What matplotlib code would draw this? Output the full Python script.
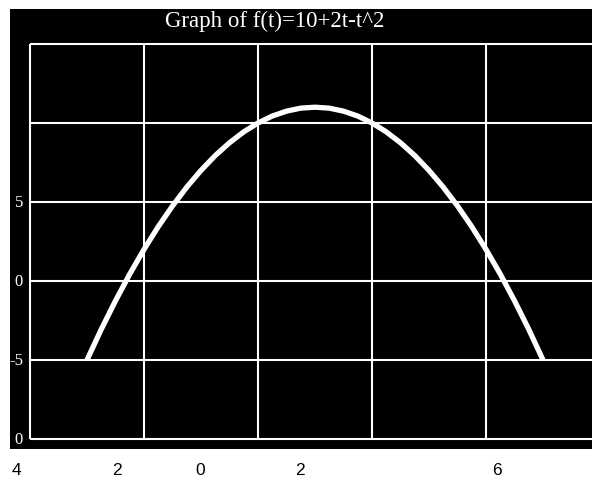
import numpy as np
import matplotlib.pyplot as plt

# ---------------------------
# Data
# ---------------------------
t_vals = [-3.0, -2.75, -2.5, -2.25, -2.0, -1.75, -1.5, -1.25, -1.0,
          -0.75, -0.5, -0.25, 0.0, 0.25, 0.5, 0.75, 1.0,
          1.25, 1.5, 1.75, 2.0, 2.25, 2.5, 2.75, 3.0,
          3.25, 3.5, 3.75, 4.0, 4.25, 4.5, 4.75, 5.0]
f_vals = [-5.0, -3.06, -1.25, 0.44, 2.0, 3.44, 4.75, 5.94, 7.0,
          7.94, 8.75, 9.44, 10.0, 10.44, 10.75, 10.94, 11.0,
          10.94, 10.75, 10.44, 10.0, 9.44, 8.75, 7.94, 7.0,
          5.94, 4.75, 3.44, 2.0, 0.44, -1.25, -3.06, -5.0]

grid_x = [-4, -2, 0, 2, 4]
grid_y = [-10, -5, 0, 5, 10, 15]

ytick_vals = [5, 0, -5, -10]
ytick_text = ["5", "0", "-5", "0"]

# the stray labels printed under the scan (pixel x positions)
xlabel_text = ["4", "2", "0", "2", "6"]
xlabel_px = [16, 117, 200, 300, 497]

title = "Graph of f(t)=10+2t-t^2"

# ---------------------------
# Figure
# ---------------------------
W, H = 592, 481
fig = plt.figure(figsize=(W / 100, H / 100), dpi=100)
fig.patch.set_facecolor("white")

# black scanned area: x 10..592, y 10..450 (pixels from top)
ax = fig.add_axes([10 / W, (H - 450) / H, 582 / W, 440 / H])
ax.set_facecolor("black")
for s in ax.spines.values():
    s.set_visible(False)
ax.set_xticks([])
ax.set_yticks([])

# pixel mapping: t=0 -> x 258, 57 px per unit; f=0 -> y 282, 15.8 px per unit
xmin = (10 - 258) / 57
xmax = (592 - 258) / 57
ymax = (282 - 10) / 15.8
ymin = (282 - 450) / 15.8
ax.set_xlim(xmin, xmax)
ax.set_ylim(ymin, ymax)

ax.vlines(grid_x, min(grid_y), max(grid_y), colors="white", linewidth=1.5)
ax.hlines(grid_y, min(grid_x), xmax, colors="white", linewidth=1.5)

ax.plot(t_vals, f_vals, color="white", linewidth=3.8,
        solid_capstyle="butt", solid_joinstyle="round")

for v, s in zip(ytick_vals, ytick_text):
    ax.text(xmin + 13 / 57, v, s, color="white", fontsize=12,
            family="Liberation Serif", ha="right", va="center")

ax.text(0.455, 1 - 1 / 440, title, transform=ax.transAxes, color="white",
        fontsize=16.5, family="Liberation Serif", ha="center", va="top")

for px, s in zip(xlabel_px, xlabel_text):
    fig.text(px / W, 1 - 471 / H, s, color="black", fontsize=12.5,
             family="Liberation Sans", ha="center", va="center")

fig.savefig("out.png", dpi=100, facecolor="white")
